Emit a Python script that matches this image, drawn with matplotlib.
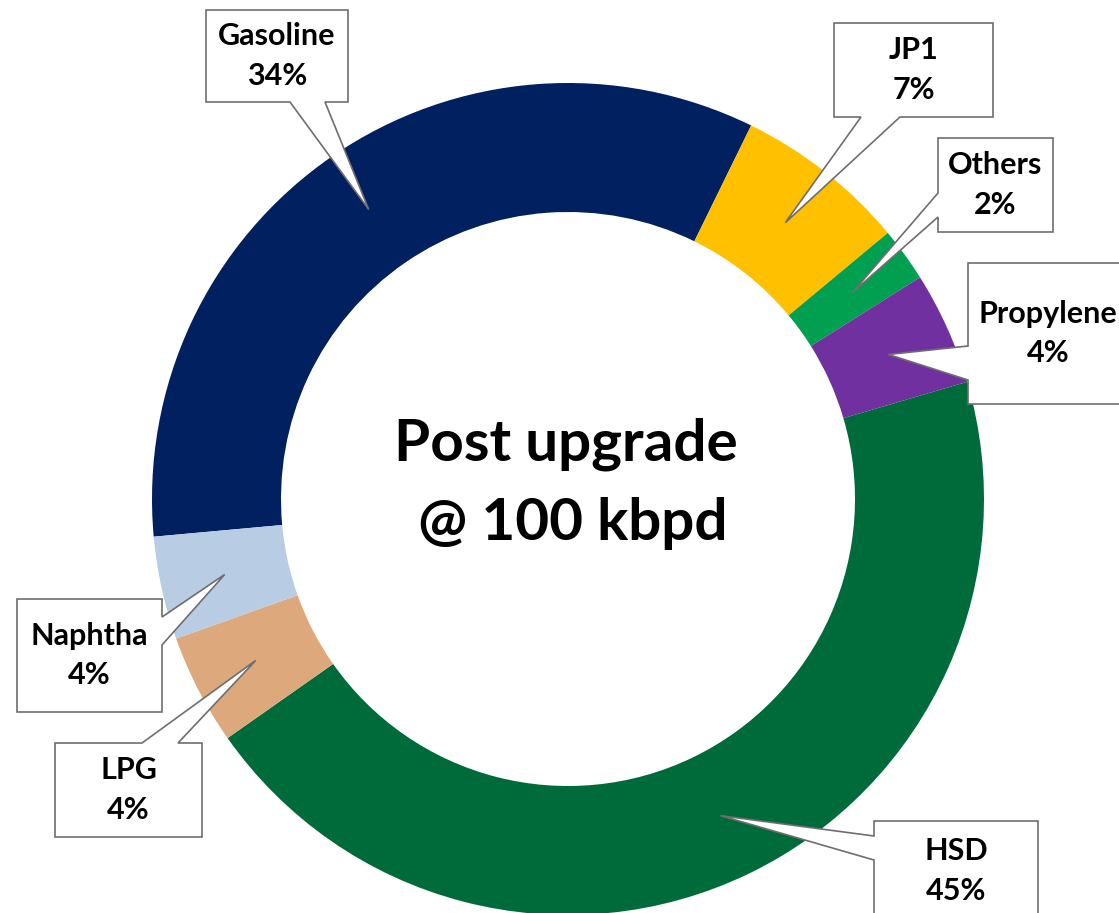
"""Donut chart: product slate post upgrade @ 100 kbpd, with Excel-style callouts."""

import numpy as np
import matplotlib

matplotlib.use("Agg")
import matplotlib.pyplot as plt
from matplotlib.patches import Polygon

W, H = 1119, 913

products = ["Gasoline", "JP1", "Others", "Propylene", "HSD", "LPG", "Naphtha"]
shares = [33.7, 6.7, 2.1, 4.4, 44.8, 4.3, 4.0]
colors = ["#002060", "#FFC000", "#00A050", "#7030A0", "#006B3A", "#DDA97C", "#B8CCE4"]
center_title = "Post upgrade\n @ 100 kbpd"

# callout boxes in pixel coords (left, top, right, bottom), pointer side, pointer base span
callouts = {
    "Gasoline": ((206, 10, 348, 102), "bottom", (290, 325)),
    "JP1": ((834, 23, 993, 117), "bottom", (861, 900)),
    "Others": ((938, 138, 1053, 232), "left", (193, 217)),
    "Propylene": ((968, 263, 1128, 404), "left", (346, 380)),
    "HSD": ((874, 821, 1038, 921), "left", (836, 860)),
    "LPG": ((55, 743, 202, 837), "top", (142, 178)),
    "Naphtha": ((17, 599, 162, 712), "right", (617, 645)),
}

CX, CY = 568, H - 499
R_OUT, RING = 416, 129
FONT = "Lato"


def flip(y):
    return H - y


def callout_poly(box, side, base, tip):
    l, t, r, b = box
    t, b = flip(t), flip(b)
    tl, tr, br, bl = (l, t), (r, t), (r, b), (l, b)
    if side == "bottom":
        pts = [tl, tr, br, (base[1], b), tip, (base[0], b), bl]
    elif side == "top":
        pts = [tl, (base[0], t), tip, (base[1], t), tr, br, bl]
    elif side == "left":
        pts = [tl, tr, br, bl, (l, flip(base[1])), tip, (l, flip(base[0]))]
    else:  # right
        pts = [tl, tr, (r, flip(base[0])), tip, (r, flip(base[1])), br, bl]
    return pts


fig = plt.figure(figsize=(W / 100, H / 100), dpi=100)
ax = fig.add_axes([0, 0, 1, 1])

wedges, _ = ax.pie(shares, colors=colors, startangle=185.2, counterclock=False,
                   radius=R_OUT, center=(CX, CY),
                   wedgeprops=dict(width=RING, linewidth=0))

total = sum(shares)
r_mid = R_OUT - RING / 2
for name, val, wedge in zip(products, shares, wedges):
    mid = np.deg2rad((wedge.theta1 + wedge.theta2) / 2)
    tip = (CX + r_mid * np.cos(mid), CY + r_mid * np.sin(mid))
    box, side, base = callouts[name]
    poly = Polygon(callout_poly(box, side, base, tip), closed=True,
                   facecolor="white", edgecolor="#6e6e6e", linewidth=1.2,
                   zorder=5, joinstyle="miter")
    ax.add_patch(poly)
    tx = (box[0] + box[2]) / 2
    ty = flip((box[1] + box[3]) / 2)
    ax.text(tx, ty, f"{name}\n{round(val / total * 100):.0f}%", ha="center",
            va="center", fontsize=22, fontweight="bold", family=FONT,
            linespacing=1.5, zorder=6)

ax.text(CX - 2, flip(484), center_title, ha="center", va="center", fontsize=42,
        fontweight="bold", family=FONT, linespacing=1.6)

ax.set_xlim(0, W)
ax.set_ylim(0, H)
ax.set_aspect("equal")
ax.set_axis_off()

fig.savefig("out.png", dpi=100)
